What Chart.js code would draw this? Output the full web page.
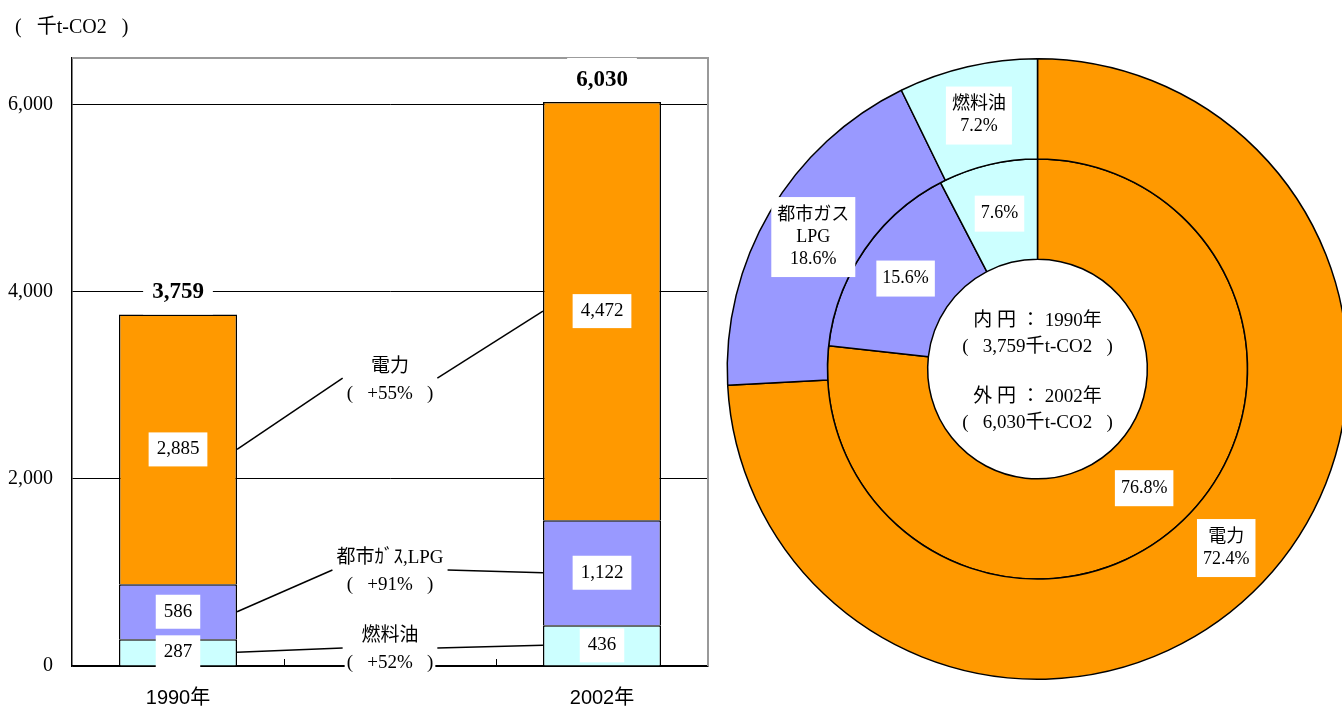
<!DOCTYPE html>
<html lang="ja">
<head>
<meta charset="utf-8">
<script src="https://cdn.jsdelivr.net/npm/chart.js@4"></script>
<style>
html, body { margin: 0; padding: 0; background: #fff; overflow: hidden; }
#wrap { position: relative; width: 1342px; height: 709px; overflow: hidden; }
#barBox { position: absolute; left: 0; top: 0; width: 715px; height: 709px; }
#pieBox { position: absolute; left: 715px; top: 0; width: 660px; height: 709px; }
</style>
</head>
<body>
<div id="wrap">
  <div id="barBox"><canvas id="barChart"></canvas></div>
  <div id="pieBox"><canvas id="pieChart"></canvas></div>
</div>
<script>
// data
const categories = ['1990年', '', '2002年'];
const fuelOil = [287, null, 436];
const cityGas = [586, null, 1122];
const power = [2885, null, 4472];
const totals = [3759, null, 6030];
const yTicks = [0, 2000, 4000, 6000];
const seriesNames = ['燃料油', '都市ガス,LPG', '電力'];
const growthNames = ['燃料油', '都市ｶﾞｽ,LPG', '電力'];
const growthRates = ['+52%', '+91%', '+55%'];
const colors = ['#CCFFFF', '#9999FF', '#FF9900'];
const ringNames = ['内 円', '外 円'];
const ringYears = ['1990年', '2002年'];
const pieNames = [['電力'], ['都市ガス', 'LPG'], ['燃料油']];
const outerPct = ['72.4%', '18.6%', '7.2%'];
const innerPct = ['76.8%', '15.6%', '7.6%'];
const unit = '千t-CO2';

const SERIF = '"Liberation Serif", "Noto Sans CJK JP", serif';
const SANS = '"Liberation Sans", "Noto Sans CJK JP", sans-serif';

function paren(s) { return '(   ' + s + '   )'; }

function textBox(ctx, lines, x, y, font, lineH, padX, padY) {
    ctx.font = font;
    let w = 0;
    lines.forEach(function(t) { w = Math.max(w, ctx.measureText(t).width); });
    const h = lines.length * lineH;
    ctx.fillStyle = '#fff';
    ctx.fillRect(x - w / 2 - padX, y - h / 2 - padY, w + 2 * padX, h + 2 * padY);
    ctx.fillStyle = '#000';
    ctx.textAlign = 'center';
    ctx.textBaseline = 'middle';
    lines.forEach(function(t, i) { ctx.fillText(t, x, y - h / 2 + lineH * (i + 0.5)); });
    return w;
}

function line(ctx, x1, y1, x2, y2) {
    ctx.beginPath();
    ctx.moveTo(x1, y1);
    ctx.lineTo(x2, y2);
    ctx.stroke();
}

// where the growth notes sit, in y-axis units
const noteAnchors = [171, 1005, 3057];

const barExtras = {
    id: 'barExtras',
    beforeDatasetsDraw(chart) {
        const ctx = chart.ctx, a = chart.chartArea, x = chart.scales.x;
        ctx.save();
        ctx.strokeStyle = '#999';
        ctx.lineWidth = 2;
        ctx.beginPath();
        ctx.moveTo(a.left, a.top);
        ctx.lineTo(a.right, a.top);
        ctx.lineTo(a.right, a.bottom);
        ctx.stroke();
        ctx.strokeStyle = '#000';
        ctx.lineWidth = 1;
        for (let i = 0; i < categories.length - 1; i++) {
            const px = Math.round((x.getPixelForValue(i) + x.getPixelForValue(i + 1)) / 2) + 0.5;
            line(ctx, px, a.bottom, px, a.bottom - 7);
        }
        ctx.font = '20px ' + SERIF;
        ctx.fillStyle = '#000';
        ctx.textAlign = 'left';
        ctx.textBaseline = 'middle';
        ctx.fillText(paren(unit), 15, 28);
        ctx.restore();
    },
    afterDatasetsDraw(chart) {
        const ctx = chart.ctx, y = chart.scales.y, x = chart.scales.x;
        ctx.save();
        const valFont = '19px ' + SERIF;
        // segment values
        chart.data.datasets.forEach(function(ds, di) {
            chart.getDatasetMeta(di).data.forEach(function(el, j) {
                if (ds.data[j] == null) return;
                textBox(ctx, [ds.data[j].toLocaleString('en-US')], el.x, (el.y + el.base) / 2, valFont, 22, 8, 6);
            });
        });
        // totals
        const top = chart.getDatasetMeta(2).data;
        totals.forEach(function(t, j) {
            if (t == null) return;
            textBox(ctx, [t.toLocaleString('en-US')], top[j].x, top[j].y - 22, 'bold 23px ' + SERIF, 26, 9, 9);
        });
        // growth notes with leader lines
        const mid = x.getPixelForValue(1);
        ctx.strokeStyle = '#000';
        ctx.lineWidth = 1.5;
        growthNames.forEach(function(name, i) {
            const cy = y.getPixelForValue(noteAnchors[i]);
            const left = chart.getDatasetMeta(i).data[0];
            const right = chart.getDatasetMeta(i).data[2];
            const rate = paren(growthRates[i]);
            ctx.font = '19px ' + SERIF;
            const w = Math.max(ctx.measureText(name).width, ctx.measureText(rate).width);
            const half = w / 2 + 4;
            line(ctx, left.x + left.width / 2, (left.y + left.base) / 2, mid - half, cy - 2);
            line(ctx, mid + half, cy - 2, right.x - right.width / 2, (right.y + right.base) / 2);
            textBox(ctx, [name, rate], mid, cy, '19px ' + SERIF, 27, 2, 1);
        });
        ctx.restore();
    }
};

new Chart(document.getElementById('barChart'), {
    type: 'bar',
    data: {
        labels: categories,
        datasets: [
            { label: seriesNames[0], data: fuelOil, backgroundColor: colors[0] },
            { label: seriesNames[1], data: cityGas, backgroundColor: colors[1] },
            { label: seriesNames[2], data: power, backgroundColor: colors[2] }
        ]
    },
    options: {
        responsive: true,
        maintainAspectRatio: false,
        animation: false,
        layout: { padding: { left: 0, right: 7, top: 58, bottom: 0 } },
        datasets: {
            bar: { borderColor: '#000', borderWidth: 1.5, barPercentage: 1, categoryPercentage: 0.557 }
        },
        plugins: { legend: { display: false }, tooltip: { enabled: false } },
        scales: {
            x: {
                stacked: true,
                grid: { display: false, drawTicks: false },
                border: { color: '#000', width: 1.5 },
                ticks: { color: '#000', font: { family: SANS, size: 20 }, padding: 20 },
                afterFit: function(s) { s.height = 43; }
            },
            y: {
                stacked: true,
                min: 0,
                max: 6500,
                afterBuildTicks: function(s) { s.ticks = yTicks.map(function(v) { return { value: v }; }); },
                grid: { color: '#000', lineWidth: 1, drawTicks: false },
                border: { color: '#000', width: 1.5 },
                ticks: {
                    color: '#000',
                    font: { family: SERIF, size: 20 },
                    padding: 19,
                    callback: function(v) { return v.toLocaleString('en-US'); }
                },
                afterFit: function(s) { s.width = 72; }
            }
        }
    },
    plugins: [barExtras]
});

const pieExtras = {
    id: 'pieExtras',
    afterDatasetsDraw(chart) {
        const ctx = chart.ctx;
        ctx.save();
        const font = '18px ' + SERIF;
        chart.getDatasetMeta(0).data.forEach(function(arc, i) {
            const p = arc.tooltipPosition();
            textBox(ctx, pieNames[i].concat([outerPct[i]]), p.x, p.y, font, 22, 6, 7);
        });
        chart.getDatasetMeta(1).data.forEach(function(arc, i) {
            const p = arc.tooltipPosition();
            textBox(ctx, [innerPct[i]], p.x, p.y, font, 22, 6, 7);
        });
        const arc0 = chart.getDatasetMeta(0).data[0];
        const cx = arc0.x, cy = arc0.y;
        ctx.font = '19px ' + SERIF;
        ctx.fillStyle = '#000';
        ctx.textAlign = 'center';
        ctx.textBaseline = 'middle';
        ctx.fillText(ringNames[0] + ' ： ' + ringYears[0], cx, cy - 48);
        ctx.fillText(paren(totals[0].toLocaleString('en-US') + unit), cx, cy - 22);
        ctx.fillText(ringNames[1] + ' ： ' + ringYears[1], cx, cy + 28);
        ctx.fillText(paren(totals[2].toLocaleString('en-US') + unit), cx, cy + 54);
        ctx.restore();
    }
};

new Chart(document.getElementById('pieChart'), {
    type: 'doughnut',
    data: {
        labels: pieNames.map(function(n) { return n.join(''); }),
        datasets: [
            {
                label: ringYears[1],
                data: [power[2], cityGas[2], fuelOil[2]],
                backgroundColor: [colors[2], colors[1], colors[0]],
                borderColor: '#000',
                borderWidth: 1.5
            },
            {
                label: ringYears[0],
                data: [power[0], cityGas[0], fuelOil[0]],
                backgroundColor: [colors[2], colors[1], colors[0]],
                borderColor: '#000',
                borderWidth: 1.5
            }
        ]
    },
    options: {
        responsive: true,
        maintainAspectRatio: false,
        animation: false,
        cutout: '35.4%',
        layout: { padding: { left: 11, right: 26, top: 58, bottom: 29 } },
        plugins: { legend: { display: false }, tooltip: { enabled: false } }
    },
    plugins: [pieExtras]
});
</script>
</body>
</html>
